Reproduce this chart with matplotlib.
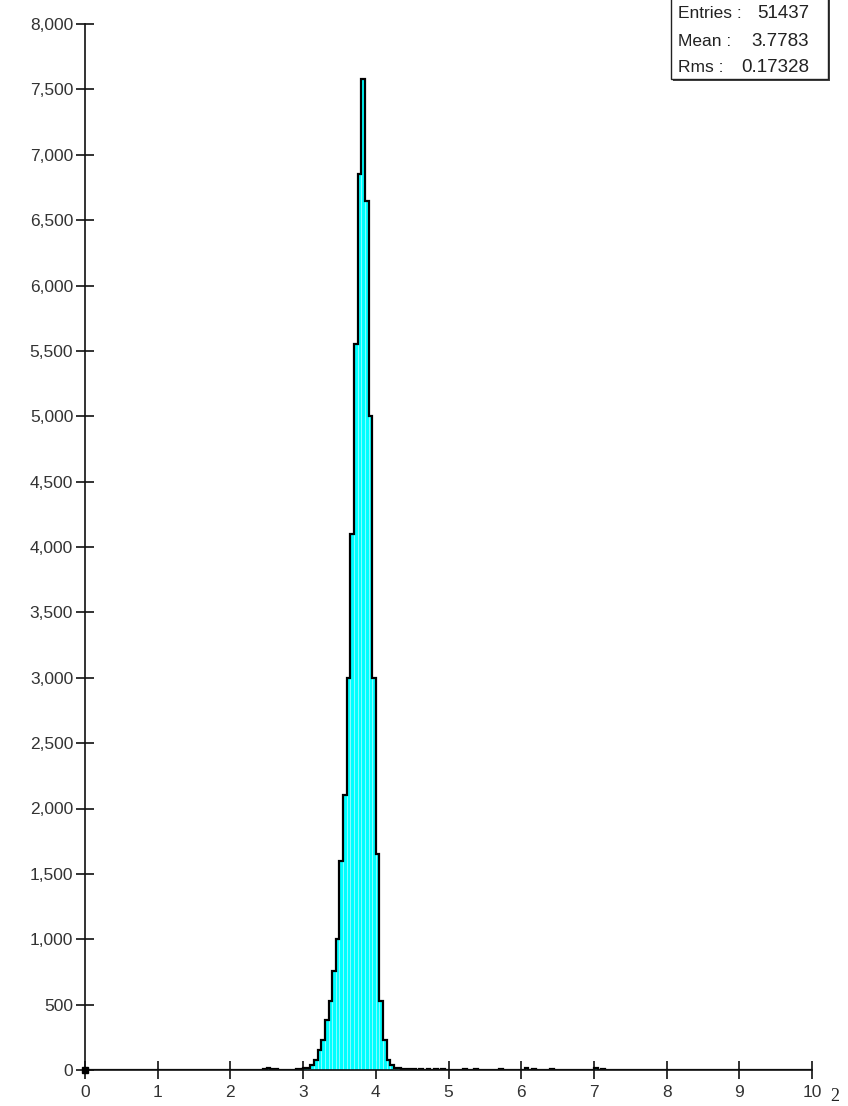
import numpy as np
import matplotlib
matplotlib.use("Agg")
import matplotlib.pyplot as plt
from matplotlib.ticker import FuncFormatter
from matplotlib.patches import Rectangle

# ---- data ----
bin_width = 0.05
bin_left = [2.45, 2.50, 2.55, 2.60, 2.90, 2.95,
            3.00, 3.05, 3.10, 3.15, 3.20, 3.25, 3.30, 3.35, 3.40, 3.45,
            3.50, 3.55, 3.60, 3.65, 3.70, 3.75, 3.80, 3.85, 3.90, 3.95,
            4.00, 4.05, 4.10, 4.15, 4.20, 4.25, 4.30, 4.35, 4.40, 4.45,
            4.50, 4.60, 4.70, 4.80, 4.90, 5.20, 5.35, 5.70, 6.05, 6.15,
            6.40, 7.00, 7.10]
counts = [10, 12, 8, 10, 5, 8,
          12, 18, 35, 75, 150, 230, 380, 530, 760, 1000,
          1600, 2100, 3000, 4100, 5550, 6850, 7580, 6650, 5000, 3000,
          1650, 530, 230, 80, 35, 18, 12, 10, 8, 8,
          8, 6, 6, 8, 6, 10, 10, 10, 12, 10,
          8, 12, 8]

x_ticks = [0, 1, 2, 3, 4, 5, 6, 7, 8, 9, 10]
y_ticks = [0, 500, 1000, 1500, 2000, 2500, 3000, 3500, 4000, 4500,
           5000, 5500, 6000, 6500, 7000, 7500, 8000]
stat_labels = ["Entries :", "Mean :", "Rms :"]
stat_values = ["51437", "3.7783", "0.17328"]

plt.rcParams['font.family'] = ['Liberation Sans', 'DejaVu Sans']

W, H = 848, 1106
fig = plt.figure(figsize=(W / 100, H / 100), dpi=100)
x0, x1 = 85, 812
y0, y1 = 1070, 24
ax = fig.add_axes([x0 / W, 1 - y0 / H, (x1 - x0) / W, (y0 - y1) / H])

edges = np.round(np.arange(0, 10 + bin_width / 2, bin_width), 6)
centers = np.array(bin_left) + bin_width / 2
ax.hist(centers, bins=edges, weights=counts, histtype='bar',
        color='#00ffff', edgecolor='#9ffcff', linewidth=0.5, zorder=2)
ax.hist(centers, bins=edges, weights=counts, histtype='step',
        color='black', linewidth=1.6, zorder=3)

ax.set_xlim(0, 10)
ax.set_ylim(0, 8000)
ax.set_xticks(x_ticks)
ax.set_yticks(y_ticks)
ax.xaxis.set_major_formatter(FuncFormatter(lambda v, p: f"{int(v)}"))
ax.yaxis.set_major_formatter(FuncFormatter(lambda v, p: f"{int(v):,}"))
for s in ['top', 'right']:
    ax.spines[s].set_visible(False)
for s in ['left', 'bottom']:
    ax.spines[s].set_linewidth(1.2)
    ax.spines[s].set_color('#111111')
    ax.spines[s].set_zorder(4)
ax.tick_params(axis='both', direction='inout', length=13, width=1.2,
               colors='#111111', labelcolor='#333333', labelsize=12.5, pad=2)
ax.tick_params(axis='x', pad=4)
ax.plot([0], [0], marker='s', color='black', markersize=4, clip_on=False, zorder=5)
ax.patch.set_visible(False)

# stats box
bx0, bx1, by0, by1 = 671, 828, -2, 79
fig.patches.append(Rectangle(((bx0 + 2) / W, 1 - (by1 + 2) / H), (bx1 - bx0) / W,
                             (by1 - by0) / H, transform=fig.transFigure,
                             facecolor='#444444', edgecolor='none', zorder=5))
fig.patches.append(Rectangle((bx0 / W, 1 - by1 / H), (bx1 - bx0) / W,
                             (by1 - by0) / H, transform=fig.transFigure,
                             facecolor='white', edgecolor='#222222',
                             linewidth=1.0, zorder=6))
rows = [14, 41, 68]
for lab, val, ry in zip(stat_labels, stat_values, rows):
    fig.text(678 / W, 1 - ry / H, lab, ha='left', va='center', fontsize=12.5,
             color='#222222', zorder=7)
    fig.text(809 / W, 1 - ry / H, val, ha='right', va='center', fontsize=13.5,
             color='#222222', zorder=7)

fig.text(830 / W, 1 - 1088 / H, "2", ha='left', va='top', fontsize=13,
         family='Liberation Serif', color='#222222')

fig.savefig("out.png", dpi=100)
